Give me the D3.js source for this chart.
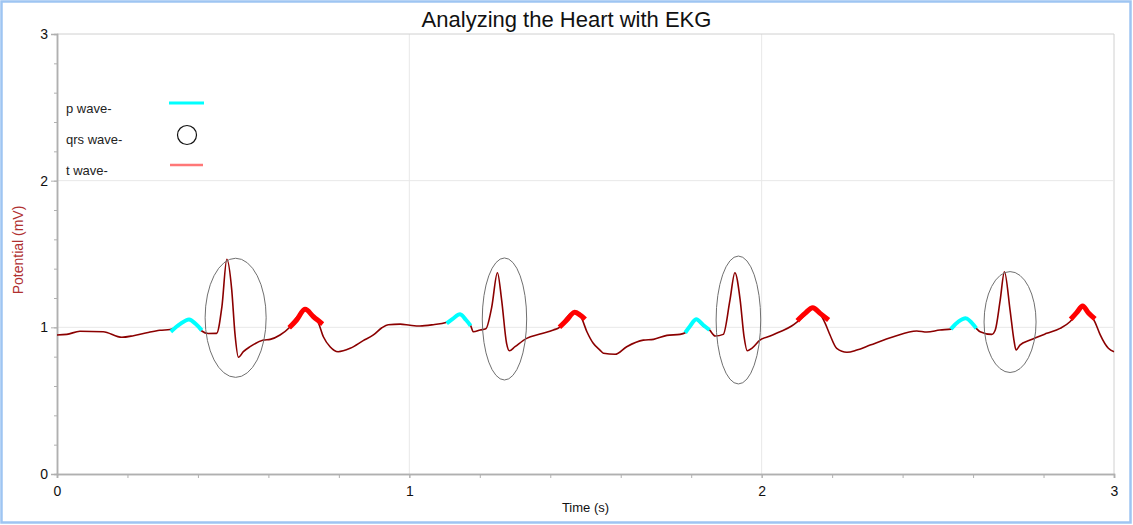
<!DOCTYPE html>
<html>
<head>
<meta charset="utf-8">
<script src="https://cdn.jsdelivr.net/npm/d3@7"></script>
<style>
  body { margin: 0; background: #fff; }
  svg { display: block; font-family: "Liberation Sans", Arial, sans-serif; }
</style>
</head>
<body>
<div id="chart"></div>
<script>
// ekg trace
const ekgTime = [0, 0.028, 0.065, 0.131, 0.184, 0.217, 0.255, 0.292, 0.321, 0.349, 0.375, 0.395, 0.411, 0.429, 0.453,
  0.468, 0.482, 0.496, 0.505, 0.515, 0.529, 0.548, 0.586, 0.605, 0.633, 0.659, 0.681, 0.704, 0.727, 0.741,
  0.756, 0.775, 0.798, 0.832, 0.869, 0.898, 0.922, 0.940, 0.974, 1.002, 1.030, 1.068, 1.104, 1.124, 1.144,
  1.161, 1.174, 1.182, 1.201, 1.217, 1.234, 1.250, 1.262, 1.276, 1.284, 1.300, 1.333, 1.371, 1.409, 1.426,
  1.445, 1.468, 1.487, 1.504, 1.522, 1.541, 1.551, 1.584, 1.617, 1.664, 1.693, 1.731, 1.768, 1.783, 1.797,
  1.814, 1.834, 1.852, 1.868, 1.891, 1.910, 1.924, 1.939, 1.950, 1.959, 1.972, 1.995, 2.024, 2.052, 2.085,
  2.101, 2.123, 2.145, 2.166, 2.180, 2.194, 2.213, 2.242, 2.270, 2.308, 2.374, 2.440, 2.469, 2.506, 2.537,
  2.557, 2.580, 2.597, 2.609, 2.620, 2.653, 2.663, 2.677, 2.689, 2.705, 2.716, 2.722, 2.733, 2.762, 2.809,
  2.847, 2.875, 2.895, 2.911, 2.932, 2.946, 2.961, 2.984, 3.000];
const ekgPotential = [0.948, 0.952, 0.973, 0.970, 0.932, 0.943, 0.963, 0.980, 0.985, 1.022, 1.053, 1.016, 0.975, 0.958, 0.959,
  1.140, 1.464, 1.254, 0.959, 0.796, 0.834, 0.868, 0.913, 0.918, 0.948, 0.997, 1.070, 1.115, 1.077, 1.036,
  0.936, 0.868, 0.834, 0.857, 0.909, 0.948, 0.997, 1.018, 1.022, 1.014, 1.009, 1.018, 1.033, 1.060, 1.089,
  1.050, 1.011, 0.970, 0.982, 0.990, 1.140, 1.372, 1.186, 0.891, 0.840, 0.868, 0.925, 0.954, 0.982, 1.000,
  1.063, 1.102, 1.070, 0.970, 0.891, 0.845, 0.823, 0.816, 0.868, 0.913, 0.918, 0.945, 0.952, 0.963, 1.009,
  1.050, 1.009, 0.982, 0.941, 0.952, 1.186, 1.372, 1.186, 0.936, 0.840, 0.857, 0.913, 0.941, 0.970, 1.009,
  1.038, 1.084, 1.128, 1.091, 1.029, 0.948, 0.857, 0.830, 0.845, 0.879, 0.936, 0.975, 0.968, 0.982, 0.988,
  1.036, 1.060, 1.022, 0.993, 0.970, 0.952, 0.982, 1.186, 1.379, 1.118, 0.913, 0.845, 0.879, 0.913, 0.959,
  0.993, 1.038, 1.097, 1.142, 1.091, 1.036, 0.948, 0.857, 0.834];

// highlighted p waves and t waves, [time, potential]
const pWaves = [
  [[0.323, 0.970], [0.349, 1.022], [0.375, 1.054], [0.394, 1.022], [0.411, 0.979]],
  [[1.106, 1.027], [1.124, 1.060], [1.144, 1.089], [1.161, 1.050], [1.174, 1.011]],
  [[1.783, 0.963], [1.797, 1.009], [1.814, 1.055], [1.834, 1.016], [1.852, 0.982]],
  [[2.537, 0.988], [2.557, 1.036], [2.580, 1.061], [2.597, 1.029], [2.609, 0.993]]
];
const tWaves = [
  [[0.659, 0.997], [0.680, 1.050], [0.704, 1.123], [0.728, 1.072], [0.754, 1.022]],
  [[1.426, 1.000], [1.447, 1.050], [1.468, 1.102], [1.485, 1.084], [1.499, 1.055]],
  [[2.101, 1.045], [2.123, 1.095], [2.145, 1.134], [2.166, 1.095], [2.190, 1.050]],
  [[2.877, 1.055], [2.894, 1.100], [2.911, 1.145], [2.927, 1.100], [2.946, 1.057]]
];
// qrs ellipses: centre time, centre potential, half width (s), half height (mV)
const qrsTime = [0.507, 1.270, 1.934, 2.705];
const qrsPotential = [1.065, 1.057, 1.050, 1.036];
const qrsHalfWidth = [0.0866, 0.063, 0.0633, 0.0738];
const qrsHalfHeight = [0.406, 0.416, 0.436, 0.344];

const xTicks = [0, 1, 2, 3];
const yTicks = [0, 1, 2, 3];
const legendLabels = ["p wave-", "qrs wave-", "t wave-"];

const W = 1133, H = 525;
const margin = { top: 34, right: 19, bottom: 51, left: 57 };
const width = W - margin.left - margin.right;
const height = H - margin.top - margin.bottom;

const root = d3.select("#chart").append("svg")
    .attr("width", W)
    .attr("height", H);

// blue window frame
root.append("rect")
    .attr("x", 1.5).attr("y", 1.5)
    .attr("width", W - 4).attr("height", H - 4)
    .attr("fill", "#fff")
    .attr("stroke", "#9ec5f2")
    .attr("stroke-width", 2.5);

root.append("text")
    .attr("x", W / 2)
    .attr("y", 27)
    .attr("text-anchor", "middle")
    .style("font-size", "22px")
    .style("fill", "#111")
    .text("Analyzing the Heart with EKG");

const svg = root.append("g")
    .attr("transform", `translate(${margin.left},${margin.top})`);

const x = d3.scaleLinear().domain([0, 3]).range([0, width]);
const y = d3.scaleLinear().domain([0, 3]).range([height, 0]);

// grid
svg.append("g").selectAll("line")
    .data(xTicks.slice(1))
    .join("line")
    .attr("x1", d => x(d)).attr("x2", d => x(d))
    .attr("y1", 0).attr("y2", height)
    .attr("stroke", d => d === 3 ? "#d0d0d0" : "#e8e8e8");
svg.append("g").selectAll("line")
    .data(yTicks.slice(1))
    .join("line")
    .attr("x1", 0).attr("x2", width)
    .attr("y1", d => y(d)).attr("y2", d => y(d))
    .attr("stroke", d => d === 3 ? "#d0d0d0" : "#e8e8e8");

// axes
const xAxis = svg.append("g")
    .attr("transform", `translate(0,${height})`)
    .call(d3.axisBottom(x).tickValues(xTicks).tickFormat(d3.format("d")).tickSize(4).tickPadding(8));
const xMinor = svg.append("g")
    .attr("transform", `translate(0,${height})`)
    .call(d3.axisBottom(x).tickValues(d3.range(0, 3.001, 0.2)).tickFormat("").tickSize(4));
const yAxis = svg.append("g")
    .call(d3.axisLeft(y).tickValues(yTicks).tickFormat(d3.format("d")).tickSize(6).tickPadding(3));
const yMinor = svg.append("g")
    .call(d3.axisLeft(y).tickValues(d3.range(0, 3.001, 0.2)).tickFormat("").tickSize(3));

[xAxis, xMinor, yAxis, yMinor].forEach(g => {
    g.select(".domain").attr("stroke", "#b0b0b0").attr("stroke-width", 1.5);
    g.selectAll(".tick line").attr("stroke", "#b0b0b0");
    g.selectAll(".tick text").style("font-size", "14px").style("fill", "#111")
        .style("font-family", "Liberation Sans, Arial, sans-serif");
});

svg.append("text")
    .attr("x", width / 2)
    .attr("y", height + 38)
    .attr("text-anchor", "middle")
    .style("font-size", "13px")
    .style("fill", "#111")
    .text("Time (s)");

svg.append("text")
    .attr("transform", `translate(${-34},${height / 2 - 4}) rotate(-90)`)
    .attr("text-anchor", "middle")
    .style("font-size", "14px")
    .style("fill", "#b03030")
    .text("Potential (mV)");

// ekg trace
const line = d3.line().x(d => x(d[0])).y(d => y(d[1])).curve(d3.curveMonotoneX);
const trace = ekgTime.map((t, i) => [t, ekgPotential[i]]);

svg.append("path")
    .datum(trace)
    .attr("fill", "none")
    .attr("stroke", "#8b0000")
    .attr("stroke-width", 1.6)
    .attr("stroke-linejoin", "round")
    .attr("d", line);

const waveLine = d3.line().x(d => x(d[0])).y(d => y(d[1])).curve(d3.curveCatmullRom);

svg.selectAll(".p-wave")
    .data(pWaves)
    .join("path")
    .attr("class", "p-wave")
    .attr("fill", "none")
    .attr("stroke", "#00ffff")
    .attr("stroke-width", 4)
    .attr("d", waveLine);

svg.selectAll(".t-wave")
    .data(tWaves)
    .join("path")
    .attr("class", "t-wave")
    .attr("fill", "none")
    .attr("stroke", "#ff0000")
    .attr("stroke-width", 5)
    .attr("stroke-linejoin", "round")
    .attr("d", waveLine);

svg.selectAll(".qrs")
    .data(qrsTime)
    .join("ellipse")
    .attr("class", "qrs")
    .attr("cx", d => x(d))
    .attr("cy", (d, i) => y(qrsPotential[i]))
    .attr("rx", (d, i) => x(qrsHalfWidth[i]) - x(0))
    .attr("ry", (d, i) => y(0) - y(qrsHalfHeight[i]))
    .attr("fill", "none")
    .attr("stroke", "#707070")
    .attr("stroke-width", 1);

// legend
const legend = svg.append("g").attr("transform", "translate(9,0)");
legend.selectAll("text")
    .data(legendLabels)
    .join("text")
    .attr("x", 0)
    .attr("y", (d, i) => 79 + i * 31)
    .style("font-size", "13px")
    .style("fill", "#222")
    .text(d => d);

legend.append("line")
    .attr("x1", 103).attr("x2", 138)
    .attr("y1", 69).attr("y2", 69)
    .attr("stroke", "#00ffff").attr("stroke-width", 3);
legend.append("circle")
    .attr("cx", 121).attr("cy", 101).attr("r", 9.5)
    .attr("fill", "none").attr("stroke", "#111").attr("stroke-width", 1.2);
legend.append("line")
    .attr("x1", 104).attr("x2", 137)
    .attr("y1", 131).attr("y2", 131)
    .attr("stroke", "#ff7777").attr("stroke-width", 2.5);
</script>
</body>
</html>
